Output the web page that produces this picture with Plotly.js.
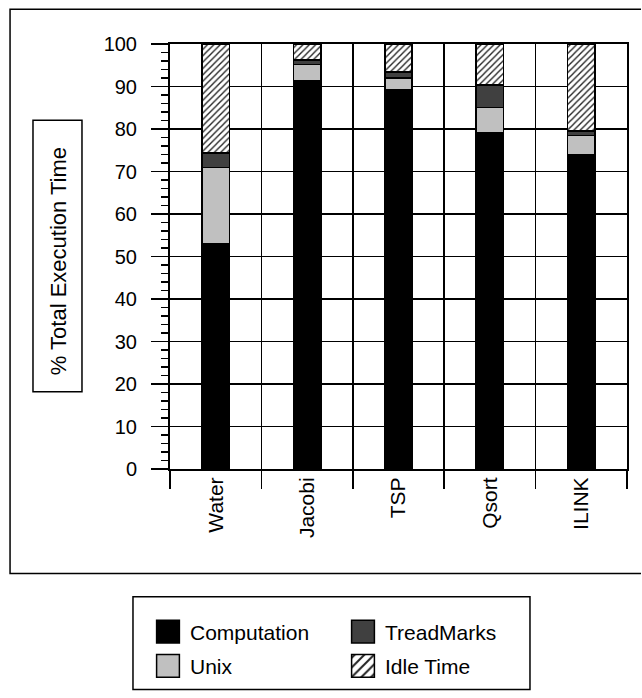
<!DOCTYPE html>
<html>
<head>
<meta charset="utf-8">
<script src="https://cdn.plot.ly/plotly-3.0.1.min.js"></script>
<style>html,body{margin:0;padding:0;background:#fff;overflow:hidden;}</style>
</head>
<body>
<div id="chart" style="width:642px;height:698px;"></div>
<script>
var categories = ['Water', 'Jacobi', 'TSP', 'Qsort', 'ILINK'];
var computation = [53.1, 91.3, 89.3, 79.2, 74.0];
var unix        = [17.8, 3.9, 2.7, 5.9, 4.5];
var treadmarks  = [3.4, 1.0, 1.4, 5.2, 1.0];
var idle        = [25.7, 3.8, 6.6, 9.7, 20.5];
var yTicks = [0, 10, 20, 30, 40, 50, 60, 70, 80, 90, 100];

var FONT = 'Liberation Sans, Arial, Helvetica, sans-serif';
var outline = {color: '#000', width: 1.5};

function bar(name, values, color, rank, pattern) {
  var m = {color: color, line: outline};
  if (pattern) m.pattern = pattern;
  return {
    type: 'bar', name: name, x: categories, y: values,
    width: 0.3, marker: m, legendrank: rank, hoverinfo: 'skip'
  };
}

var traces = [
  bar('Computation', computation, '#000000', 1),
  bar('Unix', unix, '#c0c0c0', 3),
  bar('TreadMarks', treadmarks, '#404040', 2),
  bar('Idle Time', idle, '#ffffff', 4,
      {shape: '/', fgcolor: '#222222', bgcolor: '#ffffff', size: 4.5, solidity: 0.3})
];

var PLOT_L = 170, PLOT_W = 457;
var legendX = 0.805;
var boxLine = {color: '#000', width: 1.5};

var layout = {
  width: 642, height: 698,
  margin: {l: PLOT_L, r: 15, t: 43.7, b: 228.7, autoexpand: false},
  paper_bgcolor: '#fff', plot_bgcolor: '#fff',
  font: {family: FONT, size: 20, color: '#000'},
  barmode: 'stack',
  showlegend: true,
  legend: {
    orientation: 'h', x: legendX, xanchor: 'right', y: -0.335, yanchor: 'top',
    entrywidth: 150, font: {family: FONT, size: 21, color: '#000'},
    bgcolor: 'rgba(0,0,0,0)', borderwidth: 0, traceorder: 'normal'
  },
  xaxis: {
    type: 'category', range: [-0.5, 4.5],
    tickson: 'boundaries', ticks: 'outside', ticklen: 18, tickwidth: 1.5, tickcolor: '#000',
    showgrid: true, gridcolor: '#000', gridwidth: 1.5,
    showline: true, linecolor: '#000', linewidth: 2, mirror: true,
    tickangle: -90, tickfont: {family: FONT, size: 21, color: '#000'},
    ticklabelstandoff: -2,
    fixedrange: true, zeroline: false
  },
  yaxis: {
    range: [0, 100], tickvals: yTicks, ticktext: yTicks.map(String),
    ticks: 'outside', ticklen: 17, tickwidth: 1.5, tickcolor: '#000',
    minor: {dtick: 2, ticks: 'outside', ticklen: 7, tickwidth: 1.5, tickcolor: '#000', showgrid: false},
    showgrid: true, gridcolor: '#000', gridwidth: 1.5,
    showline: true, linecolor: '#000', linewidth: 2, mirror: true,
    zeroline: false, tickfont: {family: FONT, size: 20, color: '#000'},
    ticklabelstandoff: 10,
    fixedrange: true
  },
  annotations: [{
    text: '% Total Execution Time', textangle: -90,
    xref: 'paper', yref: 'paper', x: -0.245, y: 0.489,
    xanchor: 'center', yanchor: 'middle', showarrow: false,
    font: {family: FONT, size: 22, color: '#000'}
  }],
  shapes: [
    {type: 'path', xref: 'paper', yref: 'paper',
     path: 'M1.0306,1.082 L-0.35,1.082 L-0.35,-0.246 L1.0306,-0.246',
     line: boxLine, fillcolor: 'rgba(0,0,0,0)'},
    {type: 'rect', xref: 'paper', yref: 'paper', x0: -0.2998, x1: -0.1926, y0: 0.1816, y1: 0.8207,
     line: boxLine, fillcolor: 'rgba(0,0,0,0)'},
    {type: 'rect', xref: 'paper', yref: 'paper', x0: -0.081, x1: 0.7877, y0: -0.5186, y1: -0.3008,
     line: boxLine, fillcolor: 'rgba(0,0,0,0)'}
  ]
};

function fixLegend() {
  var items = Array.prototype.slice.call(document.querySelectorAll('.legend .traces'));
  var firstY = null;
  items.forEach(function (tr) {
    var t = tr.getAttribute('transform') || '';
    var m = t.match(/translate\(\s*([-\d.e]+)[ ,]+([-\d.e]+)\s*\)/);
    if (!m) return;
    var x = parseFloat(m[1]), y = parseFloat(m[2]);
    if (firstY === null) firstY = y;
    if (y > firstY + 1) tr.setAttribute('transform', 'translate(' + x + ',' + (y + 4) + ')');
  });
  items.forEach(function (tr) {
    var txt = tr.querySelector('text.legendtext');
    var p = tr.querySelector('.legendpoints path');
    if (!txt || !p) return;
    p.setAttribute('transform', 'scale(1.9)');
    p.style.vectorEffect = 'non-scaling-stroke';
    var tb = txt.getBoundingClientRect();
    var pb = p.getBoundingClientRect();
    var dx = (tb.left - 22) - (pb.left + pb.width / 2);
    p.setAttribute('transform', 'translate(' + dx.toFixed(2) + ',0) scale(1.9)');
  });
}

var gd = document.getElementById('chart');
Plotly.newPlot(gd, traces, layout, {staticPlot: true, displayModeBar: false}).then(function () {
  var firstText = document.querySelector('.legend .traces text.legendtext');
  var shift = 0;
  if (firstText) {
    var rect = gd.getBoundingClientRect();
    shift = 190 - (firstText.getBoundingClientRect().left - rect.left);
  }
  if (Math.abs(shift) > 0.5) {
    return Plotly.relayout(gd, {'legend.x': legendX + shift / PLOT_W});
  }
}).then(fixLegend);
</script>
</body>
</html>
